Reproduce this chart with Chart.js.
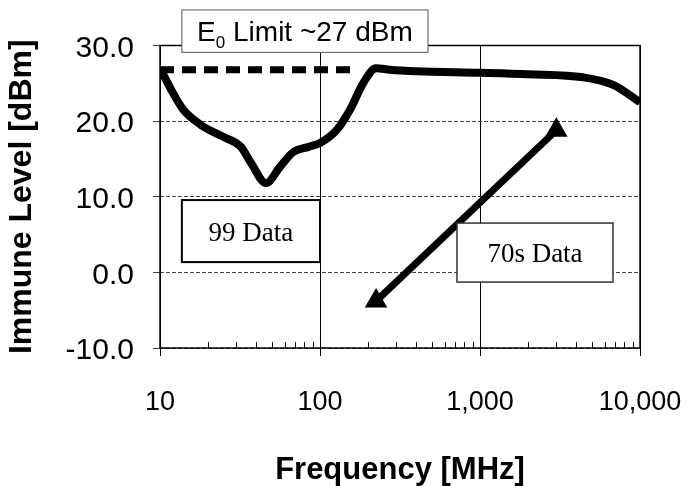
<!DOCTYPE html>
<html lang="en">
<head>
<meta charset="UTF-8">
<title>Immune Level vs Frequency</title>
<script src="https://cdn.jsdelivr.net/npm/chart.js"></script>
<style>
    html, body { margin: 0; padding: 0; background: #fff; }
    #wrap { width: 692px; height: 486px; }
</style>
</head>
<body>
<div id="wrap"><canvas id="immuneChart"></canvas></div>
<script>
    // 99 data (smoothed curve)
    const freq99  = [10, 12, 14, 18, 25, 32, 37, 46, 56, 68, 85, 100, 127, 154, 186, 224, 273, 400, 1000, 2000, 4400, 6800, 10000];
    const level99 = [27.0, 23.8, 21.5, 19.5, 17.9, 16.6, 14.5, 11.8, 13.9, 15.9, 16.6, 17.1, 18.8, 21.5, 25.0, 27.0, 26.8, 26.6, 26.4, 26.2, 25.8, 24.8, 22.5];

    // E0 limit, dashed
    const freqLimit  = [10, 165];
    const levelLimit = [26.8, 26.8];

    // 70s data
    const freq70s  = [224, 3000];
    const level70s = [-3.8, 18.8];

    const xTickValues = [10, 100, 1000, 10000];
    const yMin = -10, yMax = 30, yStep = 10;

    const toPoints = (xs, ys) => xs.map((x, i) => ({ x: x, y: ys[i] }));

    // text boxes, placed in data units (freq, level)
    const notes = [
        { x0: 13.7, x1: 473, y0: 34.7, y1: 29.1, text: 'E|0| Limit ~27 dBm', font: 'Liberation Sans', size: 28, border: '#555', lw: 1 },
        { x0: 13.7, x1: 100, y0: 9.56, y1: 1.36, text: '99 Data', font: 'Liberation Serif', size: 27, border: '#000', lw: 2 },
        { x0: 718, x1: 6780, y0: 6.52, y1: -1.28, text: '70s Data', font: 'Liberation Serif', size: 27, border: '#333', lw: 1.5 }
    ];

    const framePlugin = {
        id: 'frame',
        afterDatasetsDraw(chart) {
            const { ctx, chartArea: a, scales } = chart;
            ctx.save();
            // minor ticks along the bottom
            ctx.strokeStyle = '#000';
            ctx.lineWidth = 1;
            for (let dec = 10; dec < 10000; dec *= 10) {
                for (let k = 2; k <= 9; k++) {
                    const px = Math.round(scales.x.getPixelForValue(k * dec)) + 0.5;
                    ctx.beginPath();
                    ctx.moveTo(px, a.bottom);
                    ctx.lineTo(px, a.bottom - 6);
                    ctx.stroke();
                }
            }
            // plot frame
            ctx.lineWidth = 1.5;
            ctx.strokeRect(a.left, a.top, a.right - a.left, a.bottom - a.top);

            // boxes
            notes.forEach(n => {
                const l = scales.x.getPixelForValue(n.x0);
                const r = scales.x.getPixelForValue(n.x1);
                const t = scales.y.getPixelForValue(n.y0);
                const b = scales.y.getPixelForValue(n.y1);
                ctx.fillStyle = '#fff';
                ctx.fillRect(l, t, r - l, b - t);
                ctx.strokeStyle = n.border;
                ctx.lineWidth = n.lw;
                ctx.strokeRect(l, t, r - l, b - t);

                ctx.fillStyle = '#000';
                ctx.textBaseline = 'alphabetic';
                ctx.textAlign = 'left';
                const parts = n.text.split('|');
                const big = n.size + 'px "' + n.font + '"';
                const small = Math.round(n.size * 0.62) + 'px "' + n.font + '"';
                let w = 0;
                parts.forEach((p, i) => {
                    ctx.font = i % 2 ? small : big;
                    w += ctx.measureText(p).width;
                });
                let x = (l + r) / 2 - w / 2;
                const base = (t + b) / 2 + n.size * 0.36;
                parts.forEach((p, i) => {
                    ctx.font = i % 2 ? small : big;
                    ctx.fillText(p, x, i % 2 ? base + 7 : base);
                    x += ctx.measureText(p).width;
                });
            });
            ctx.restore();
        }
    };

    new Chart(document.getElementById('immuneChart'), {
        type: 'line',
        data: {
            datasets: [{
                label: '99 Data',
                data: toPoints(freq99, level99),
                borderColor: '#000',
                borderWidth: 8,
                cubicInterpolationMode: 'monotone',
                pointRadius: 0
            }, {
                label: 'E0 Limit',
                data: toPoints(freqLimit, levelLimit),
                borderColor: '#000',
                borderWidth: 7,
                borderDash: [14, 8],
                pointRadius: 0
            }, {
                label: '70s Data',
                data: toPoints(freq70s, level70s),
                borderColor: '#000',
                backgroundColor: '#000',
                borderWidth: 7,
                pointStyle: 'triangle',
                pointRadius: 6
            }]
        },
        options: {
            responsive: true,
            maintainAspectRatio: false,
            animation: false,
            layout: { padding: { left: 0, right: 52, top: 45.5, bottom: 0 } },
            plugins: { legend: { display: false }, tooltip: { enabled: false } },
            scales: {
                x: {
                    type: 'logarithmic',
                    min: 10,
                    max: 10000,
                    afterBuildTicks: s => { s.ticks = xTickValues.map(v => ({ value: v })); },
                    afterFit: s => { s.height = 138; s.paddingLeft = 0; s.paddingRight = 0; },
                    grid: { color: '#000', lineWidth: 1, tickLength: 8 },
                    border: { display: false },
                    ticks: {
                        color: '#000',
                        padding: 30,
                        maxRotation: 0,
                        autoSkip: false,
                        font: { family: 'Liberation Sans', size: 27 },
                        callback: v => Number(v).toLocaleString('en-US')
                    },
                    title: {
                        display: true,
                        text: 'Frequency [MHz]',
                        color: '#000',
                        font: { family: 'Liberation Sans', size: 31, weight: 'bold', lineHeight: 1 },
                        padding: { top: 0, bottom: 0 }
                    }
                },
                y: {
                    min: yMin,
                    max: yMax,
                    afterFit: s => { s.width = 160; s.paddingTop = 0; s.paddingBottom = 0; },
                    grid: { color: '#444', lineWidth: 1, tickLength: 7 },
                    border: { display: false, dash: [4, 2] },
                    ticks: {
                        stepSize: yStep,
                        color: '#000',
                        padding: 19,
                        labelOffset: 3,
                        font: { family: 'Liberation Sans', size: 30 },
                        callback: v => Number(v).toFixed(1)
                    },
                    title: {
                        display: true,
                        text: 'Immune Level [dBm]',
                        color: '#000',
                        font: { family: 'Liberation Sans', size: 32, weight: 'bold', lineHeight: 1 },
                        padding: { top: 6, bottom: 0 }
                    }
                }
            }
        },
        plugins: [framePlugin]
    });
</script>
</body>
</html>
